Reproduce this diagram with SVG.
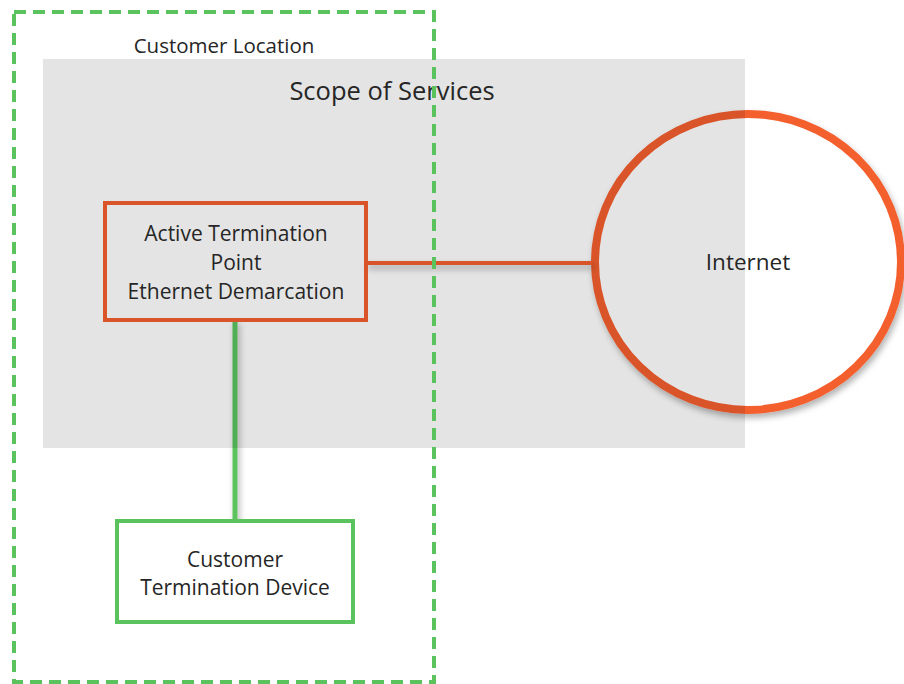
<svg xmlns="http://www.w3.org/2000/svg" width="904" height="684" viewBox="0 0 904 684">
<defs>
<style>
.t{font-family:"Open Sans","Noto Sans","DejaVu Sans",sans-serif;fill:#262626;text-anchor:middle}
.lbl{font-size:21px}
</style>
<filter id="sh" filterUnits="userSpaceOnUse" x="0" y="0" width="904" height="684">
<feDropShadow dx="2" dy="4" stdDeviation="3" flood-color="#000" flood-opacity="0.3"/>
</filter>
</defs>
<rect width="904" height="684" fill="#fff"/>
<g id="internet">
<ellipse cx="748" cy="262" rx="153" ry="148" fill="#fff" stroke="#F45E2E" stroke-width="8" filter="url(#sh)"/>
</g>
<g id="connectors">
<line x1="366" y1="263" x2="592" y2="263" stroke="#F45E2E" stroke-width="4" filter="url(#sh)"/>
<line x1="235" y1="320" x2="235" y2="521" stroke="#5BC35E" stroke-width="5" filter="url(#sh)"/>
</g>
<g id="atp">
<rect x="105" y="203" width="261" height="117" fill="none" stroke="#F45E2E" stroke-width="4"/>
</g>
<g id="scope">
<rect x="43" y="59" width="702" height="389" fill="#000" fill-opacity="0.105"/>
<text class="t" x="392" y="100" font-size="25.5">Scope of Services</text>
</g>
<g id="atp-label">
<text class="t lbl" x="236" y="241">Active Termination</text>
<text class="t lbl" x="236" y="270">Point</text>
<text class="t lbl" x="236" y="299">Ethernet Demarcation</text>
</g>
<g id="internet-label">
<text class="t" x="748" y="270" font-size="22.5">Internet</text>
</g>
<g id="ctd">
<rect x="117" y="521" width="236" height="101" fill="#fff" stroke="#5BC35E" stroke-width="4"/>
<text class="t lbl" x="235" y="567">Customer</text>
<text class="t lbl" x="235" y="595">Termination Device</text>
</g>
<g id="customer-location">
<rect x="14" y="12" width="420" height="670" fill="none" stroke="#5BC35E" stroke-width="4" stroke-dasharray="12 7"/>
<text class="t" x="224" y="53" font-size="20.5">Customer Location</text>
</g>
</svg>
